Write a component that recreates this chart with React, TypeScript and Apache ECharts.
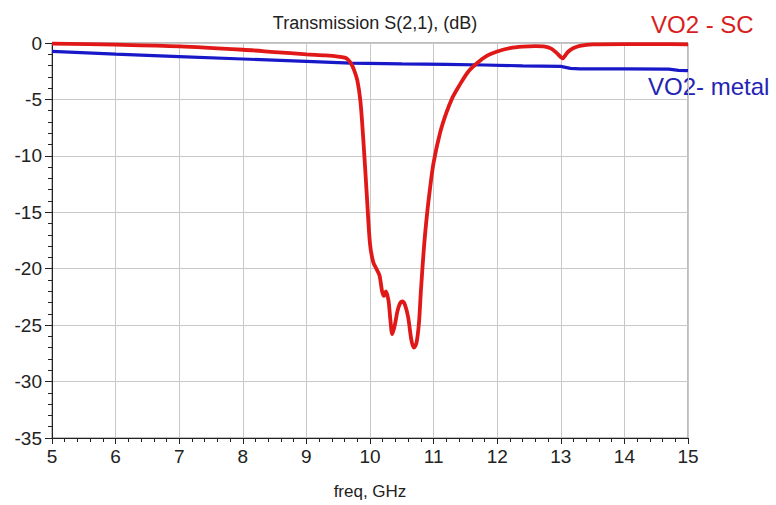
import React, { useEffect, useRef } from "react";
import * as echarts from "echarts";

const titleText = "Transmission S(2,1), (dB)";
const xAxisName = "freq, GHz";
const seriesNames = ["VO2 - SC", "VO2- metal"];

const freqSC = [5, 6, 7, 8, 8.5, 9, 9.3, 9.5, 9.6, 9.65, 9.7, 9.75, 9.8, 9.85, 9.9, 9.95, 10.0, 10.05, 10.1, 10.15, 10.19, 10.22, 10.25, 10.29, 10.32, 10.35, 10.39, 10.43, 10.47, 10.51, 10.55, 10.6, 10.65, 10.69, 10.73, 10.77, 10.8, 10.85, 10.9, 10.95, 11.0, 11.1, 11.2, 11.3, 11.4, 11.55, 11.7, 11.85, 12.0, 12.2, 12.4, 12.6, 12.75, 12.85, 12.93, 13.0, 13.03, 13.07, 13.12, 13.2, 13.3, 13.5, 14, 14.5, 15];
const valSC = [-0.05, -0.15, -0.3, -0.6, -0.8, -1.0, -1.1, -1.2, -1.3, -1.45, -1.8, -2.4, -3.3, -5.2, -9.0, -13.5, -17.8, -19.4, -20.0, -20.6, -22.0, -22.4, -22.0, -22.8, -24.5, -25.8, -25.0, -23.8, -23.1, -22.9, -23.2, -24.3, -26.3, -27.0, -26.6, -24.8, -22.0, -18.0, -15.0, -12.6, -10.6, -8.0, -6.2, -4.8, -3.8, -2.5, -1.7, -1.1, -0.75, -0.45, -0.32, -0.28, -0.32, -0.5, -0.85, -1.25, -1.35, -1.1, -0.75, -0.45, -0.25, -0.12, -0.1, -0.1, -0.12];

const freqMetal = [5, 6, 7, 8, 9, 9.7, 10.5, 11.2, 11.8, 12.4, 13.0, 13.15, 13.3, 14, 14.7, 14.85, 15];
const valMetal = [-0.75, -0.98, -1.2, -1.42, -1.63, -1.78, -1.85, -1.9, -1.95, -2.02, -2.07, -2.25, -2.3, -2.3, -2.32, -2.42, -2.45];

const xMin = 5, xMax = 15, xStep = 1;
const yMin = -35, yMax = 0, yStep = 5;

const FONT = "'Liberation Sans', Arial, sans-serif";

export default function App() {
  const ref = useRef<HTMLDivElement>(null);
  useEffect(() => {
    if (!ref.current) return;
    const chart = echarts.init(ref.current, null, { renderer: "svg" });
    const sc = freqSC.map((f, i) => [f, valSC[i]]);
    const metal = freqMetal.map((f, i) => [f, valMetal[i]]);
    chart.setOption({
      animation: false,
      backgroundColor: "#ffffff",
      title: {
        text: titleText,
        left: 370,
        top: 9,
        textAlign: "center",
        textStyle: { fontFamily: FONT, fontSize: 18, fontWeight: "normal", color: "#222" },
      },
      grid: {
        left: 52,
        right: 88,
        top: 43,
        bottom: 63,
        show: true,
        borderColor: "#7a7a7a",
        borderWidth: 1,
      },
      xAxis: {
        type: "value",
        min: xMin,
        max: xMax,
        interval: xStep,
        name: xAxisName,
        nameLocation: "middle",
        nameGap: 45,
        nameTextStyle: { fontFamily: FONT, fontSize: 17, color: "#222" },
        axisLine: { show: true, onZero: false, lineStyle: { color: "#222", width: 1 } },
        axisTick: { show: true, length: 6, lineStyle: { color: "#222" } },
        minorTick: { show: true, splitNumber: 5, length: 4, lineStyle: { color: "#222" } },
        axisLabel: { fontFamily: FONT, fontSize: 19, color: "#222", margin: 9 },
        splitLine: { show: true, lineStyle: { color: "#c8c8c8", width: 1 } },
      },
      yAxis: {
        type: "value",
        min: yMin,
        max: yMax,
        interval: yStep,
        axisLine: { show: true, onZero: false, lineStyle: { color: "#222", width: 1 } },
        axisTick: { show: true, length: 7, lineStyle: { color: "#222" } },
        minorTick: { show: true, splitNumber: 5, length: 4, lineStyle: { color: "#222" } },
        axisLabel: { fontFamily: FONT, fontSize: 19, color: "#222", margin: 10 },
        splitLine: { show: true, lineStyle: { color: "#c8c8c8", width: 1 } },
      },
      graphic: [
        {
          type: "text",
          left: 651,
          top: 12,
          style: { text: seriesNames[0], font: `24px ${FONT}`, fill: "#d81e1e" },
        },
        {
          type: "text",
          left: 648,
          top: 74,
          style: { text: seriesNames[1], font: `24px ${FONT}`, fill: "#2424b4" },
        },
      ],
      series: [
        {
          name: seriesNames[1],
          type: "line",
          data: metal,
          showSymbol: false,
          lineStyle: { color: "#1818c8", width: 3.2 },
        },
        {
          name: seriesNames[0],
          type: "line",
          data: sc,
          showSymbol: false,
          smooth: 0.3,
          lineStyle: { color: "#e01818", width: 3.8 },
        },
      ],
    });
    return () => chart.dispose();
  }, []);
  return (
    <div
      ref={ref}
      style={{ position: "fixed", left: 0, top: 0, width: 776, height: 505 }}
    />
  );
}
